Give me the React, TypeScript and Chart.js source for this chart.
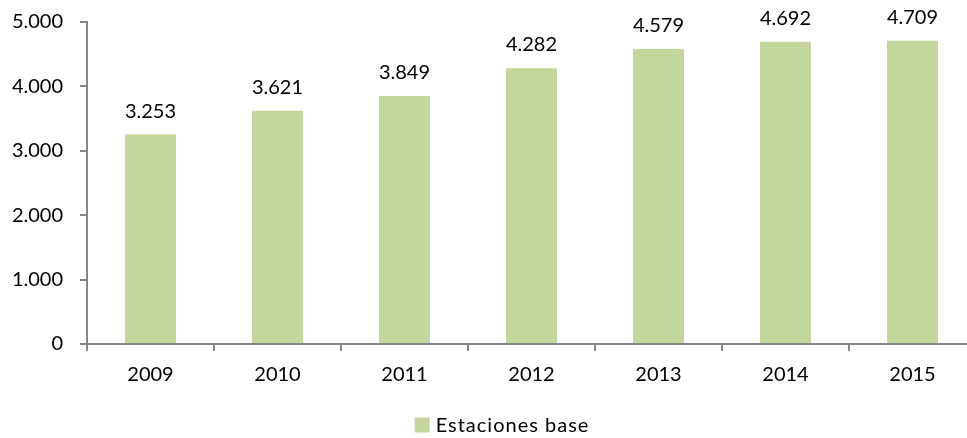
import React, { useEffect, useRef } from "react";
import { Chart, registerables } from "chart.js";

Chart.register(...registerables);

const categories = ["2009", "2010", "2011", "2012", "2013", "2014", "2015"];
const estacionesBase = [3253, 3621, 3849, 4282, 4579, 4692, 4709];
const seriesLabel = "Estaciones base";
const yTicks = [0, 1000, 2000, 3000, 4000, 5000];

const FONT = "Lato, 'Open Sans', sans-serif";
const FONT_SIZE = 20;
const BAR_COLOR = "#c3d69b";
const AXIS_COLOR = "#868686";

function fmt(v: number): string {
  const s = Math.round(v).toString();
  return s.replace(/\B(?=(\d{3})+(?!\d))/g, ".");
}

const labelsPlugin = {
  id: "barLabels",
  afterDatasetsDraw(chart: any) {
    const ctx = chart.ctx;
    ctx.save();
    ctx.fillStyle = "#000";
    ctx.font = `${FONT_SIZE}px ${FONT}`;
    ctx.textAlign = "center";
    ctx.textBaseline = "alphabetic";
    const meta = chart.getDatasetMeta(0);
    meta.data.forEach((bar: any, i: number) => {
      const v = chart.data.datasets[0].data[i];
      ctx.fillText(fmt(v), bar.x, bar.y - 17);
    });
    // legend
    const text = chart.data.datasets[0].label;
    ctx.font = `${FONT_SIZE}px ${FONT}`;
    try {
      ctx.letterSpacing = "1px";
    } catch (e) {}
    const tw = ctx.measureText(text).width;
    const box = 15;
    const gap = 6;
    const total = box + gap + tw;
    const cx = 502;
    const x0 = cx - total / 2;
    const yMid = 425;
    ctx.fillStyle = BAR_COLOR;
    ctx.fillRect(x0, yMid - box / 2, box, box);
    ctx.fillStyle = "#000";
    ctx.textAlign = "left";
    ctx.textBaseline = "middle";
    ctx.fillText(text, x0 + box + gap, yMid + 1);
    ctx.restore();
  },
};

export default function App() {
  const ref = useRef<HTMLCanvasElement | null>(null);
  useEffect(() => {
    if (!ref.current) return;
    const chart = new Chart(ref.current, {
      type: "bar",
      data: {
        labels: categories,
        datasets: [
          {
            label: seriesLabel,
            data: estacionesBase,
            backgroundColor: BAR_COLOR,
            borderWidth: 0,
            barPercentage: 0.402,
            categoryPercentage: 1,
          },
        ],
      },
      options: {
        responsive: false,
        animation: false,
        devicePixelRatio: 1,
        layout: { padding: { top: 22, bottom: 50, left: 0, right: 0 } },
        plugins: {
          legend: { display: false },
          tooltip: { enabled: false },
        },
        scales: {
          x: {
            offset: true,
            grid: {
              offset: true,
              drawOnChartArea: false,
              drawTicks: true,
              tickLength: 7,
              color: AXIS_COLOR,
              lineWidth: 2,
            },
            border: { color: AXIS_COLOR, width: 2 },
            ticks: {
              color: "#000",
              font: { family: FONT, size: FONT_SIZE },
              padding: 12,
              maxRotation: 0,
            },
            afterFit(scale: any) {
              scale.height = 44;
              scale.paddingLeft = 0;
              scale.paddingRight = 0;
            },
          },
          y: {
            min: 0,
            max: 5000,
            afterBuildTicks(scale: any) {
              scale.ticks = yTicks.map((v) => ({ value: v }));
            },
            grid: {
              drawOnChartArea: false,
              drawTicks: true,
              tickLength: 7,
              color: AXIS_COLOR,
              lineWidth: 2,
            },
            border: { color: AXIS_COLOR, width: 2 },
            ticks: {
              color: "#000",
              font: { family: FONT, size: FONT_SIZE },
              padding: 17,
              callback: (v: any) => fmt(Number(v)),
            },
            afterFit(scale: any) {
              scale.width = 87;
              scale.paddingTop = 0;
              scale.paddingBottom = 0;
            },
          },
        },
      },
      plugins: [labelsPlugin],
    });
    return () => chart.destroy();
  }, []);
  return (
    <div
      style={{
        position: "fixed",
        left: 0,
        top: 0,
        width: 967,
        height: 438,
        overflow: "hidden",
        background: "#fff",
      }}
    >
      <canvas ref={ref} width={976} height={438} style={{ display: "block" }} />
    </div>
  );
}
